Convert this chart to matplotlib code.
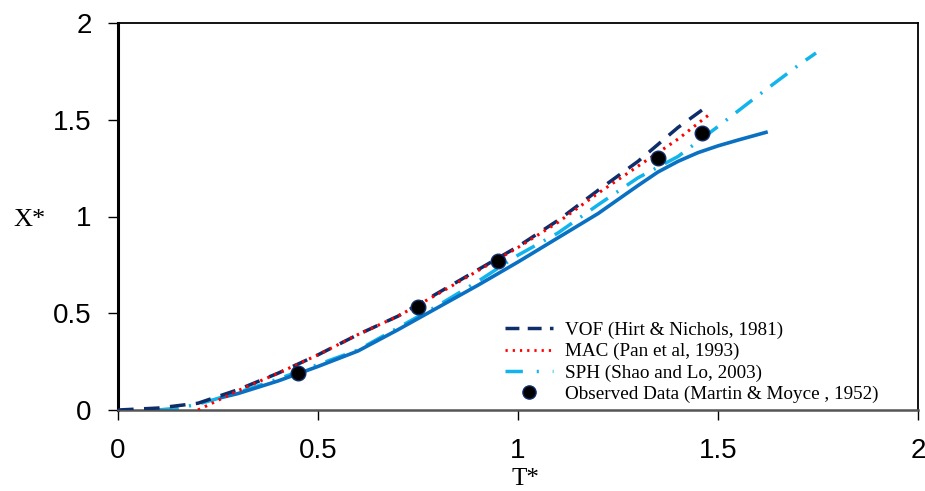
import matplotlib
matplotlib.use('Agg')
import matplotlib.pyplot as plt
from matplotlib.lines import Line2D

# ---- data ----
vof_t = [0.0, 0.1, 0.2, 0.3, 0.4, 0.5, 0.6, 0.7, 0.8, 0.9, 1.0, 1.1, 1.2, 1.3, 1.4, 1.48]
vof_x = [0.0, 0.01, 0.035, 0.105, 0.19, 0.285, 0.39, 0.485, 0.605, 0.725, 0.845, 0.98, 1.135, 1.285, 1.46, 1.58]

mac_t = [0.2, 0.25, 0.3, 0.4, 0.5, 0.6, 0.7, 0.8, 0.9, 1.0, 1.1, 1.2, 1.3, 1.4, 1.48]
mac_x = [0.0, 0.05, 0.10, 0.19, 0.285, 0.39, 0.485, 0.60, 0.72, 0.84, 0.97, 1.12, 1.26, 1.40, 1.53]

sph_t = [0.1, 0.15, 0.2, 0.25, 0.3, 0.4, 0.5, 0.6, 0.7, 0.8, 0.9, 1.0, 1.1, 1.2, 1.3, 1.4, 1.5, 1.6, 1.7, 1.745]
sph_x = [0.0, 0.01, 0.03, 0.06, 0.09, 0.16, 0.235, 0.31, 0.425, 0.54, 0.665, 0.80, 0.915, 1.06, 1.20, 1.31, 1.465, 1.625, 1.78, 1.845]

model_t = [0.26, 0.3, 0.4, 0.5, 0.6, 0.7, 0.8, 0.9, 1.0, 1.1, 1.2, 1.3, 1.35, 1.4, 1.45, 1.5, 1.55, 1.62]
model_x = [0.065, 0.085, 0.15, 0.225, 0.305, 0.415, 0.53, 0.645, 0.765, 0.89, 1.015, 1.16, 1.23, 1.285, 1.33, 1.365, 1.395, 1.435]

obs_t = [0.45, 0.75, 0.95, 1.35, 1.46]
obs_x = [0.19, 0.53, 0.77, 1.30, 1.43]

labels = ['VOF (Hirt & Nichols, 1981)', 'MAC (Pan et al, 1993)',
          'SPH (Shao and Lo, 2003)', 'Observed Data (Martin & Moyce , 1952)']

c_vof = '#0f2d69'
c_mac = '#ff0000'
c_sph = '#12b4ec'
c_model = '#0a70c2'

fig = plt.figure(figsize=(9.25, 4.91), dpi=100)
ax = fig.add_axes([118/925, 81/491, 800/925, 387/491])

ax.plot(sph_t, sph_x, color=c_sph, lw=2.5, dashes=(6.0, 3.0, 0.6, 3.0), zorder=2)
ax.plot(model_t, model_x, color=c_model, lw=2.6, zorder=3)
ax.plot(vof_t, vof_x, color=c_vof, lw=2.5, dashes=(4.5, 3.0), zorder=4)
ax.plot(mac_t, mac_x, color=c_mac, lw=2.2, dashes=(0.8, 1.7), zorder=5)
ax.plot(obs_t, obs_x, 'o', color='black', mec=c_vof, mew=1, ms=10.5, zorder=6)

ax.set_xlim(0, 2)
ax.set_ylim(0, 2)
ax.set_xticks([0, 0.5, 1, 1.5, 2])
ax.set_yticks([0, 0.5, 1, 1.5, 2])
ax.set_xticklabels(['0', '0.5', '1', '1.5', '2'])
ax.set_yticklabels(['0', '0.5', '1', '1.5', '2'])
ax.tick_params(direction='out', length=7, width=1, labelsize=20,
               colors='black')
ax.tick_params(axis='y', pad=12)
ax.tick_params(axis='x', pad=13)
for lab in ax.get_xticklabels() + ax.get_yticklabels():
    lab.set_family('Liberation Sans')

for s in ['top', 'right']:
    ax.spines[s].set_linewidth(1.3)
ax.spines['left'].set_linewidth(2.2)
ax.spines['bottom'].set_linewidth(1.8)
ax.spines['bottom'].set_color('#555555')

fig.text(30/925, 1 - 220/491, 'X*', family='Liberation Serif', fontsize=19,
         ha='center', va='center')
fig.text(525/925, 1/491, 'T*', family='Liberation Serif', fontsize=18,
         ha='center', va='bottom')

handles = [
    Line2D([], [], color=c_vof, lw=2.5, dashes=(4.0, 2.4)),
    Line2D([], [], color=c_mac, lw=2.0, dashes=(0.8, 1.8)),
    Line2D([], [], color=c_sph, lw=2.5, dashes=(5.0, 4.0, 0.6, 4.0)),
    Line2D([], [], ls='none', marker='o', color='black', mec=c_vof, ms=9.5),
]
fig.legend(handles, labels, loc='lower left',
           bbox_to_anchor=(505/925, 1 - 403/491),
           frameon=False, prop={'family': 'Liberation Serif', 'size': 13.8},
           handlelength=2.5, handletextpad=0.65, labelspacing=0.2,
           borderpad=0, borderaxespad=0)

fig.savefig('out.png', dpi=100)
